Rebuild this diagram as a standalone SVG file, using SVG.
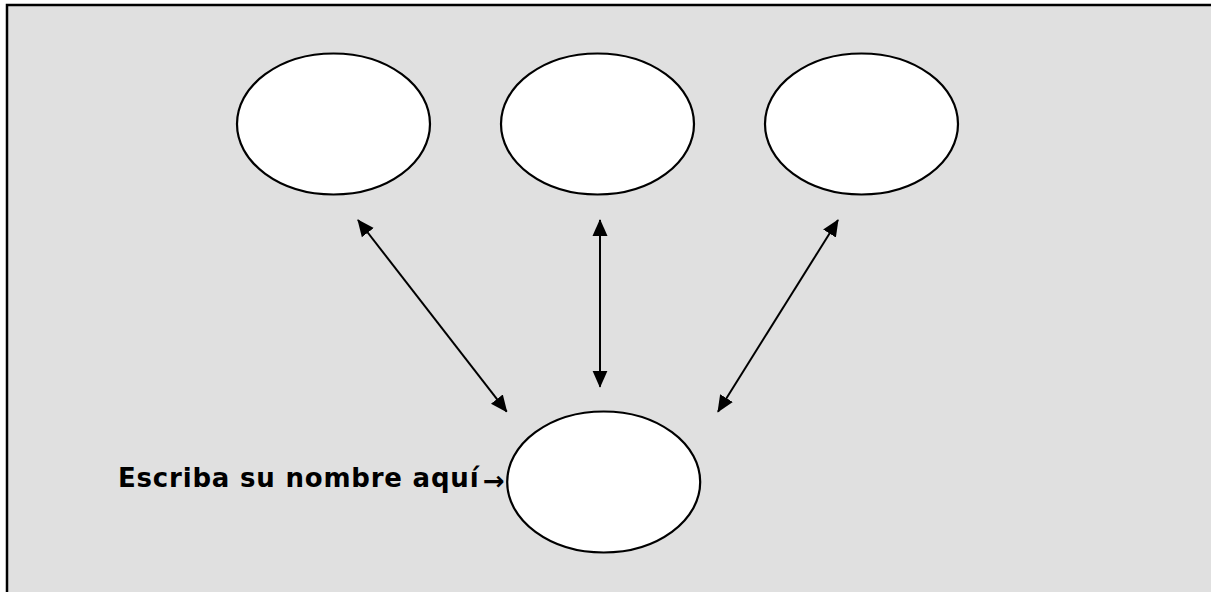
<svg xmlns="http://www.w3.org/2000/svg" width="1211" height="592" viewBox="0 0 1211 592">
  <style>
    .node { fill: #ffffff; stroke: #000000; stroke-width: 2.2; }
    .conn { stroke: #000000; stroke-width: 2; fill: none; marker-start: url(#ah); marker-end: url(#ah); }
    .lbl { font-family: "DejaVu Sans", Verdana, sans-serif; font-weight: bold; font-size: 26px; letter-spacing: 0.8px; fill: #000000; }
    .arr { font-family: "DejaVu Sans", Verdana, sans-serif; font-weight: bold; font-size: 26px; fill: #000000; }
  </style>
  <defs>
    <marker id="ah" markerUnits="userSpaceOnUse" markerWidth="17" markerHeight="16" viewBox="0 0 17 15" refX="16" refY="7.5" orient="auto-start-reverse">
      <path d="M0,0 L17,7.5 L0,15 z" fill="#000000"/>
    </marker>
  </defs>
  <rect x="7" y="5" width="1204" height="587" fill="#e0e0e0"/>
  <path d="M7,592 L7,5 L1211,5" fill="none" stroke="#000000" stroke-width="2.5"/>
  <g id="node-top-left"><ellipse class="node" cx="333.5" cy="124" rx="96.5" ry="70.5"/></g>
  <g id="node-top-center"><ellipse class="node" cx="597.5" cy="124" rx="96.5" ry="70.5"/></g>
  <g id="node-top-right"><ellipse class="node" cx="861.5" cy="124" rx="96.5" ry="70.5"/></g>
  <g id="node-bottom"><ellipse class="node" cx="603.7" cy="482" rx="96.5" ry="70.5"/></g>
  <g id="connectors">
    <line class="conn" x1="358" y1="220" x2="506.7" y2="411.7"/>
    <line class="conn" x1="600" y1="220" x2="600" y2="386.7"/>
    <line class="conn" x1="838" y1="220" x2="718" y2="411.7"/>
  </g>
  <g id="label">
    <text class="lbl" x="118" y="487.3">Escriba su nombre aquí</text>
    <text class="arr" x="483" y="490">→</text>
  </g>
</svg>
